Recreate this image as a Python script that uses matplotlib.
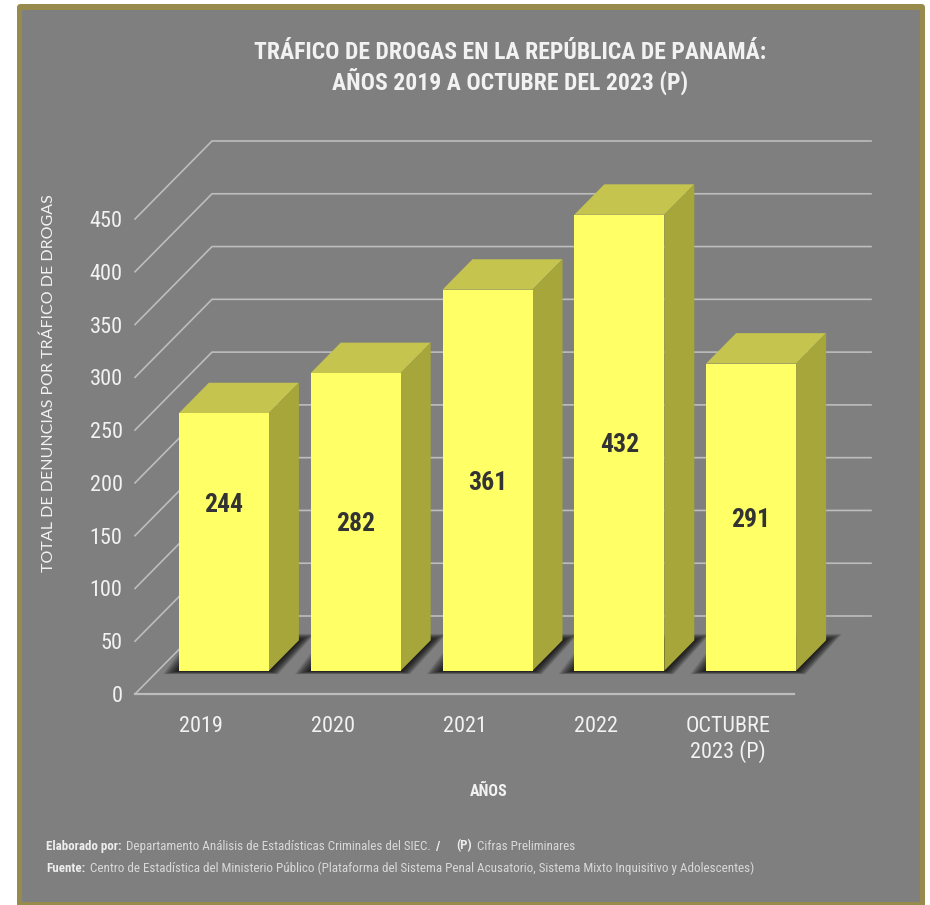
import matplotlib
matplotlib.use("Agg")
import matplotlib.pyplot as plt
from matplotlib.patches import FancyBboxPatch, Polygon, Rectangle

# ---- data ----
categories = ["2019", "2020", "2021", "2022", "OCTUBRE\n2023 (P)"]
values = [244, 282, 361, 432, 291]
label_shift = [37, 0, 0, 0, 0]      # value-units the printed label sits above bar centre
y_ticks = list(range(0, 500, 50))

TITLE = "TRÁFICO DE DROGAS EN LA REPÚBLICA DE PANAMÁ:\nAÑOS 2019 A OCTUBRE DEL 2023 (P)"
YLABEL = "TOTAL DE DENUNCIAS POR TRÁFICO DE DROGAS"
XLABEL = "AÑOS"

W, H = 930, 905
L, R, B, T = 135, 794, 694, 219     # pixel box of front plane
CPX = (R - L) / 5                   # pixels per category
VPX = (B - T) / 450                 # pixels per value unit
DX, DY = 77 / CPX, 78 / VPX         # wall offset in data units

NARROW = "Roboto Condensed"
GRID = "#BDBDBD"
TXT = "#F2F2F2"

fig = plt.figure(figsize=(W / 100, H / 100), dpi=100, facecolor="white")

def px(x, y):
    return x / W, 1 - y / H

# panel
fig.add_artist(FancyBboxPatch(px(17, 908), 908 / W, 904 / H, boxstyle="round,pad=0,rounding_size=0.004",
                              transform=fig.transFigure, fc="#968B4C", ec="none", zorder=-9))
fig.add_artist(Rectangle(px(22, 902), 898 / W, 892 / H, transform=fig.transFigure,
                         fc="#7F7F7F", ec="none", zorder=-8))

ax = fig.add_axes([L / W, 1 - B / H, (R - L) / W, (B - T) / H])
ax.patch.set_alpha(0)
ax.set_xlim(0, 5)
ax.set_ylim(0, 450)
for s in ax.spines.values():
    s.set_visible(False)

def P(cat, val, depth):
    return (cat + depth * DX, val + depth * DY)

# walls and grid
for v in y_ticks:
    a, b, c = P(0, v, 0), P(0, v, 1), P(5, v, 1)
    ax.plot([a[0], b[0], c[0]], [a[1], b[1], c[1]], color=GRID, lw=1.2, clip_on=False, zorder=1,
            solid_joinstyle="miter")
ax.plot([0, 5], [0, 0], color=GRID, lw=1.6, clip_on=False, zorder=1)

# bars
bw = 90 / CPX
d0, d1 = 23 / 77, 53 / 77
for i, v in enumerate(values):
    c0 = i + 0.5 - bw / 2
    c1 = c0 + bw
    # soft floor shadow: stacked translucent footprints
    for e in range(16, -1, -1):
        poly = [(P(c0, 0, d0)[0] - e / CPX, P(c0, 0, d0)[1] - e * 0.22 / VPX),
                (P(c1, 0, d0)[0] + e * 0.6 / CPX, P(c1, 0, d0)[1] - e * 0.22 / VPX),
                (P(c1, 0, d1)[0] + e / CPX, P(c1, 0, d1)[1] + e * 0.4 / VPX),
                (P(c0, 0, d1)[0] - e / CPX, P(c0, 0, d1)[1] + e * 0.4 / VPX)]
        ax.add_patch(Polygon(poly, fc="black", ec="none", alpha=0.08, clip_on=False, zorder=2))
    # top, side, front
    ax.add_patch(Polygon([P(c0, v, d0), P(c1, v, d0), P(c1, v, d1), P(c0, v, d1)],
                         fc="#C4C44E", ec="none", clip_on=False, zorder=3))
    ax.add_patch(Polygon([P(c1, 0, d0), P(c1, v, d0), P(c1, v, d1), P(c1, 0, d1)],
                         fc="#A6A63A", ec="none", clip_on=False, zorder=3))
    ax.add_patch(Polygon([P(c0, 0, d0), P(c1, 0, d0), P(c1, v, d0), P(c0, v, d0)],
                         fc="#FFFF66", ec="none", clip_on=False, zorder=4))
    xl, yl = P(i + 0.5, v / 2 + label_shift[i], d0)
    ax.text(xl, yl, str(v), ha="center", va="center_baseline", family=NARROW, weight="bold",
            fontsize=18.5, color="#333333", zorder=5)

# axes text
ax.set_xticks([i + 0.5 for i in range(len(categories))], categories)
ax.set_yticks(y_ticks)
ax.tick_params(axis="x", length=0, pad=15.5, labelcolor=TXT, labelsize=16)
ax.tick_params(axis="y", length=0, pad=9, labelcolor=TXT, labelsize=16)
for t in ax.get_xticklabels() + ax.get_yticklabels():
    t.set_family(NARROW)
for t in ax.get_yticklabels():
    t.set_verticalalignment("center_baseline")

ax.set_ylabel(YLABEL, family="Lato", fontsize=11.5, color=TXT)
ax.yaxis.set_label_coords(-0.12, 0.655)
ax.set_xlabel(XLABEL, family=NARROW, weight="bold", fontsize=11.5, color=TXT)
ax.xaxis.set_label_coords(0.536, -0.189)

x, y = px(510, 68)
fig.text(x, y, TITLE, ha="center", va="center", family=NARROW, weight="bold",
         fontsize=17, color=TXT, linespacing=1.2)

# footer
def foot(xp, yp, s, bold=False):
    x, y = px(xp, yp)
    fig.text(x, y, s, ha="left", va="center", family=NARROW, weight="bold" if bold else "normal",
             fontsize=9.4, color="#EDEDED" if bold else "#D9D9D9")

foot(46, 846, "Elaborado por:", True)
foot(126, 846, "Departamento Análisis de Estadísticas Criminales del SIEC.")
foot(436, 846, "/", True)
foot(456, 846, "(P)", True)
foot(477, 846, "Cifras Preliminares")
foot(46, 868, "Fuente:", True)
foot(90, 868, "Centro de Estadística del Ministerio Público (Plataforma del Sistema Penal Acusatorio, Sistema Mixto Inquisitivo y Adolescentes)")

fig.savefig("out.png", dpi=100)
